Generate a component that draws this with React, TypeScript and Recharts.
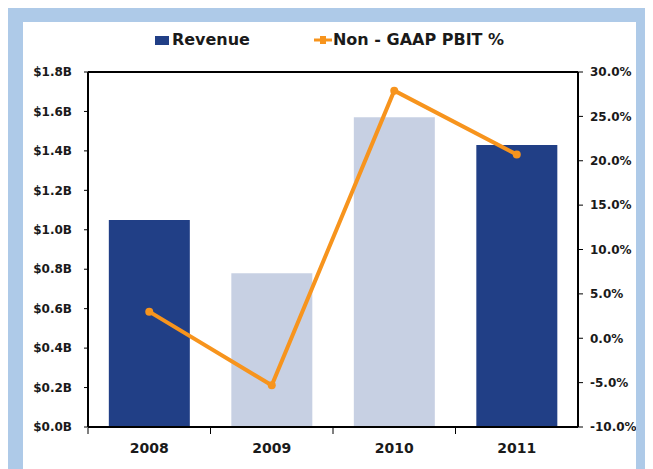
import { ComposedChart, Bar, Line, XAxis, YAxis, Legend, Cell, ReferenceLine } from 'recharts';

const years = ['2008', '2009', '2010', '2011'];
const revenue = [1.05, 0.78, 1.57, 1.43]; // $B
const pbitPct = [3.0, -5.3, 27.9, 20.7]; // %
const barColors = ['#213f86', '#c7d0e3', '#c7d0e3', '#213f86'];
const revenueTicks = [0, 0.2, 0.4, 0.6, 0.8, 1.0, 1.2, 1.4, 1.6, 1.8];
const pctTicks = [-10, -5, 0, 5, 10, 15, 20, 25, 30];

const chartData = years.map((year, i) => ({ year, revenue: revenue[i], pbit: pbitPct[i] }));

const FONT = '"DejaVu Sans", sans-serif';
const NAVY = '#213f86';
const ORANGE = '#f7941d';
const INK = '#1a1a1a';

const tickStyle = { fontFamily: FONT, fontWeight: 700, fontSize: 12, fill: INK };

// category label plus a tick mark at the left edge of each band
const YearTick = (props: any) => {
  const { x, y, payload } = props;
  const half = payload.offset || 0;
  return (
    <g>
      <line x1={x - half} x2={x - half} y1={y - 1} y2={y + 5} stroke="#000" strokeWidth={1} />
      <text x={x} y={y + 24} textAnchor="middle" fontFamily={FONT} fontWeight={700} fontSize={14} fill={INK}>
        {payload.value}
      </text>
    </g>
  );
};

const renderLegend = () => (
  <div
    style={{
      height: 50,
      display: 'flex',
      justifyContent: 'center',
      alignItems: 'flex-start',
      paddingTop: 8,
      boxSizing: 'border-box',
      fontFamily: FONT,
      fontWeight: 700,
      fontSize: 16,
      color: INK,
      lineHeight: '20px',
    }}
  >
    <div style={{ display: 'flex', alignItems: 'center', marginRight: 64 }}>
      <svg width={15} height={20}>
        <rect x={0} y={6} width={14} height={9} fill={NAVY} />
      </svg>
      <span style={{ marginLeft: 2 }}>Revenue</span>
    </div>
    <div style={{ display: 'flex', alignItems: 'center' }}>
      <svg width={18} height={20}>
        <line x1={0} x2={18} y1={10} y2={10} stroke={ORANGE} strokeWidth={3} />
        <rect x={6} y={6} width={6} height={8} fill={ORANGE} />
      </svg>
      <span style={{ marginLeft: 1 }}>Non - GAAP PBIT %</span>
    </div>
  </div>
);

export default function App() {
  return (
    <div
      style={{
        width: 637,
        height: 461,
        background: '#aecae8',
        paddingTop: 14,
        paddingLeft: 15,
        boxSizing: 'border-box',
      }}
    >
      <div style={{ width: 613, height: 447, background: '#fff' }}>
        <ComposedChart width={613} height={447} data={chartData} margin={{ top: 0, right: 0, bottom: 0, left: 0 }} barCategoryGap="17%">
          <Legend verticalAlign="top" content={renderLegend} />
          <XAxis
            dataKey="year"
            height={42}
            axisLine={{ stroke: '#000', strokeWidth: 2 }}
            tickLine={false}
            tickSize={0}
            tick={<YearTick />}
            interval={0}
          />
          <YAxis
            yAxisId="left"
            width={65}
            domain={[0, 1.8]}
            ticks={revenueTicks}
            allowDataOverflow
            axisLine={{ stroke: '#000', strokeWidth: 2 }}
            tickLine={{ stroke: '#000' }}
            tickSize={4}
            tickMargin={12}
            tick={tickStyle}
            tickFormatter={(v: number) => `$${v.toFixed(1)}B`}
          />
          <YAxis
            yAxisId="right"
            orientation="right"
            width={58}
            domain={[-10, 30]}
            ticks={pctTicks}
            allowDataOverflow
            axisLine={{ stroke: '#000', strokeWidth: 2 }}
            tickLine={{ stroke: '#000' }}
            tickSize={5}
            tickMargin={7}
            tick={{ ...tickStyle, textAnchor: 'start' }}
            tickFormatter={(v: number) => `${v.toFixed(1)}%`}
          />
          <ReferenceLine yAxisId="left" y={1.8} stroke="#000" strokeWidth={2} />
          <Bar yAxisId="left" dataKey="revenue" name="Revenue" isAnimationActive={false}>
            {chartData.map((d, i) => (
              <Cell key={d.year} fill={barColors[i]} />
            ))}
          </Bar>
          <Line
            yAxisId="right"
            type="linear"
            dataKey="pbit"
            name="Non - GAAP PBIT %"
            stroke={ORANGE}
            strokeWidth={4}
            dot={{ r: 4, fill: ORANGE, stroke: ORANGE, strokeWidth: 0 }}
            activeDot={false}
            isAnimationActive={false}
          />
        </ComposedChart>
      </div>
    </div>
  );
}
